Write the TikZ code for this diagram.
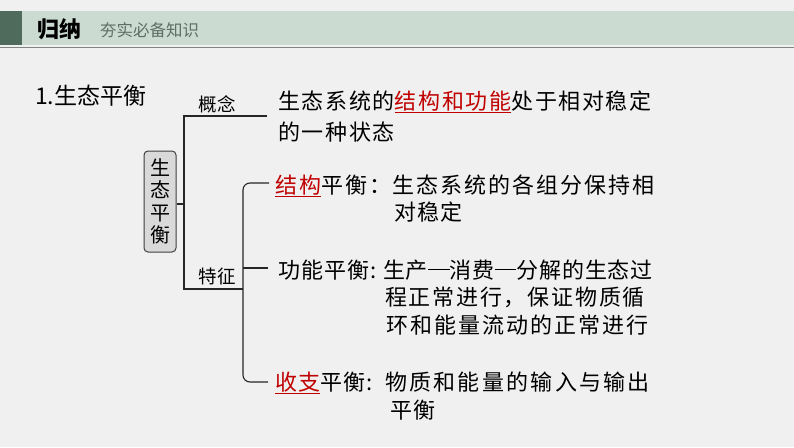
\documentclass[tikz,border=0pt]{standalone}
\usepackage{fontspec}
\newfontfamily\cjk{Noto Sans CJK SC}
\newcommand\ls[1]{\addfontfeatures{LetterSpace=#1}}
\definecolor{bg}{HTML}{F0F0F0}
\definecolor{band}{HTML}{CCDBD2}
\definecolor{hdark}{HTML}{4E6B5B}
\definecolor{gline}{HTML}{7F8580}
\definecolor{subc}{HTML}{5E6E66}
\definecolor{redc}{HTML}{C00000}
\definecolor{boxfill}{HTML}{D9D9D9}
\definecolor{boxdraw}{HTML}{3F3F3F}
\newcommand\hl[1]{\smash{\textcolor{redc}{\underline{#1}}}}
\newcommand\dsh{\raisebox{0.36em}{\rule{0.98em}{0.055em}}\hspace{0.02em}}
\begin{document}
\begin{tikzpicture}[x=1pt,y=-1pt,
  txt/.style={inner sep=0, anchor=west, font=\cjk\fontsize{22}{32}\selectfont, text=black},
  lbl/.style={inner sep=0, font=\cjk\fontsize{18.5}{20}\selectfont, text=black},
  tree/.style={draw=black!85, line width=1.1pt}]
\fill[bg] (0,0) rectangle (794,447);
\useasboundingbox (0,0) rectangle (794,447);
% header
\fill[band] (0,11) rectangle (794,45);
\fill[hdark] (0,11) rectangle (22,45);
\draw[gline, line width=1.5pt] (0,47.5) -- (794,47.5);
\node[anchor=west, inner sep=0, font=\cjk\bfseries\fontsize{22}{24}\selectfont] (gn) at (37,29) {归纳};
\node[anchor=west, inner sep=0, font=\cjk\fontsize{16.5}{18}\selectfont, text=subc] (hs) at (100,30) {夯实必备知识};
% title
\node[anchor=west, inner sep=0, font=\cjk\fontsize{23}{26}\selectfont] (title) at (35,96) {1.生态平衡};
% box
\node[draw=boxdraw, fill=boxfill, rounded corners=4pt, line width=1pt, minimum width=32pt, minimum height=101pt, inner sep=0, align=center, font=\cjk\fontsize{20}{22.5}\selectfont] (bx) at (160,201.5) {生\\态\\平\\衡};
% labels
\node[lbl] (gnl) at (217,104) {概念};
\node[lbl] (tzl) at (217,276) {特征};
% text lines
\node[txt] (c1) at (278,101) {\ls{7.5}生态系统的\hl{结构和功能}处于相对稳定};
\node[txt] (c2) at (278,132) {\ls{7.5}的一种状态};
\node[txt] (s1) at (275,185) {\ls{8.8}\hl{结构}平衡：生态系统的各组分保持相};
\node[txt] (s2) at (394,212) {\ls{4.5}对稳定};
\node[txt] (f1a) at (278,270) {\ls{4.5}功能平衡:};
\node[txt] (f1b) at (383,270) {\ls{3.5}生产\dsh 消费\dsh 分解的生态过};
\node[txt] (f2) at (385,297) {\ls{8}程正常进行，保证物质循};
\node[txt] (f3) at (386,325) {\ls{9.3}环和能量流动的正常进行};
\node[txt] (b1a) at (275,382) {\ls{4.5}\hl{收支}平衡:};
\node[txt] (b1b) at (385,382) {\ls{10.3}物质和能量的输入与输出};
\node[txt] (b2) at (390,410) {\ls{6.8}平衡};
% tree
\coordinate (ja) at (184,204);
\coordinate (jt) at (184,116);
\coordinate (jb) at (184,289);
\coordinate (ct) at (267,116);
\coordinate (kv) at (243,289);
\coordinate (kt) at (269,183);
\coordinate (ktc) at (243,183);
\coordinate (km) at (268,268);
\coordinate (kb) at (268,382);
\coordinate (kbc) at (243,382);
\draw[tree] (bx.east |- ja) -- (ja);
\draw[tree] (ct) -- (jt) -- (jb) -- (kv);
\draw[tree, rounded corners=7pt] (kt) -- (ktc) -- (kbc) -- (kb);
\draw[tree] (kv |- km) -- (km);
\end{tikzpicture}
\end{document}
